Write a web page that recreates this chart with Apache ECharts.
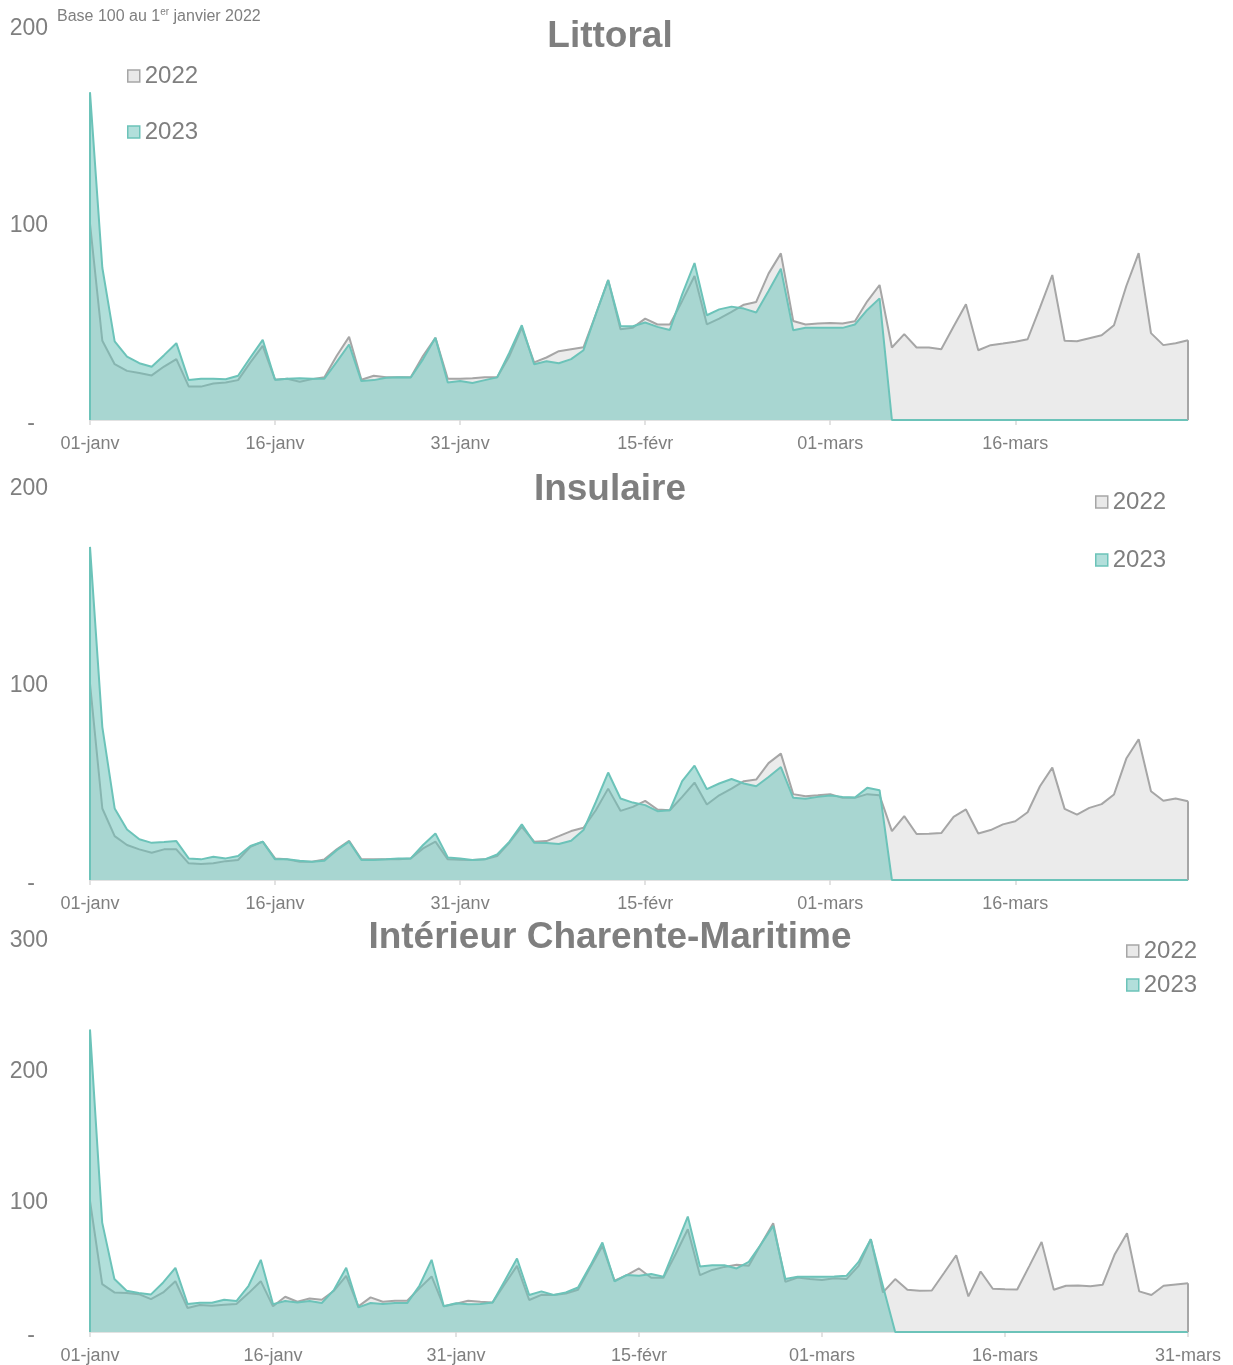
<!DOCTYPE html>
<html><head><meta charset="utf-8">
<script src="https://cdn.jsdelivr.net/npm/echarts@6/dist/echarts.min.js"></script>
<style>html,body{margin:0;padding:0;background:#fff}#c{width:1233px;height:1365px}</style>
</head><body><div id="c"></div>
<script>
// ---------- categories (labels as on the reference calendar) ----------
const monthNames = ['janv', 'févr', 'mars'];
const monthDays = [31, 29, 31];
const allDates = [];
monthNames.forEach(function (m, k) {
  for (let d = 1; d <= monthDays[k]; d++) allDates.push((d < 10 ? '0' : '') + d + '-' + m);
});
const catsLittoral = allDates.slice(0, 90);
const catsInsulaire = allDates.slice(0, 90);
const catsInterieur = allDates.slice(0, 91);

// ---------- values (base 100 au 1er janvier 2022) ----------
const littoral2022 = [100, 40.3, 28.4, 25, 23.9, 22.7, 27.2, 31, 17.1, 17, 18.6, 19.1, 20.3, 29.3, 37.7, 20.5, 21, 19.5, 20.8, 21.7, 32.7, 42.3, 20.5, 22.5, 21.7, 21.8, 21.7, 32.7, 41.8, 21, 21,
  21.3, 21.8, 21.8, 32.6, 47, 29.3, 31.8, 35, 36, 37, 53.8, 71.2, 46.2, 47, 51.6, 48.6, 48.6, 60.6, 73.3, 48.7, 51.6, 55, 58.7, 60.1, 74.5, 84.8, 50.4, 48.6, 49.1, 49.4,
  49.1, 50.3, 60.4, 68.7, 36.9, 43.7, 36.9, 36.9, 36, 47.6, 58.9, 35.5, 38.1, 38.9, 39.8, 41.1, 57.2, 73.8, 40.3, 40.1, 41.6, 43.1, 48.2, 68.2, 84.9, 44.2, 38.1, 39.1, 40.6];
const littoral2023 = [166.7, 77.5, 40, 32.3, 28.9, 27.1, 33, 39.1, 20.3, 21, 21, 20.7, 22.5, 31.8, 40.8, 20.5, 21, 21.3, 21, 21, 29.6, 38.4, 19.8, 20.3, 21.5, 21.8, 21.6, 31, 41.8, 19.1, 19.8,
  18.8, 20.3, 21.7, 34.4, 48.2, 28.4, 29.9, 28.9, 31, 35.5, 53.8, 71.2, 47.9, 47.7, 49.6, 47.4, 45.8, 63.9, 79.9, 53.3, 56.3, 57.7, 56.7, 54.7, 65.6, 77, 45.7, 46.9, 46.9, 46.9,
  46.9, 48.6, 56, 61.9, 0, 0, 0, 0, 0, 0, 0, 0, 0, 0, 0, 0, 0, 0, 0, 0, 0, 0, 0, 0, 0, 0, 0, 0, 0];

const insulaire2022 = [100, 36.4, 22.3, 17.8, 15.6, 13.9, 15.6, 15.6, 8.5, 8.1, 8.5, 9.6, 10.2, 16.9, 19.5, 11, 10.5, 9.3, 9.3, 10.5, 15.6, 20, 10.5, 10.5, 10.5, 10.5, 11, 16.1, 19.5, 10.5, 10.3,
  10.2, 10.5, 12.2, 19.1, 27.1, 19.5, 19.8, 22.3, 24.9, 26.6, 35.5, 46.5, 35.2, 37.2, 40.3, 35.9, 35.5, 42.3, 49.6, 38.4, 43.1, 46.5, 50.3, 51.1, 59.5, 64.3, 43.7, 42.6, 43.1, 43.7,
  41.8, 41.8, 43.7, 43.1, 24.9, 32.5, 23.4, 23.5, 23.9, 32.1, 35.9, 23.7, 25.4, 28.3, 29.9, 34.5, 47.7, 57.2, 36.2, 33.3, 36.7, 38.6, 43.5, 61.8, 71.6, 45.2, 40.3, 41.5, 40.1];
const insulaire2023 = [169.5, 77.8, 36.4, 25.7, 20.7, 18.9, 19.3, 19.8, 11, 10.5, 11.8, 11, 12.2, 17.3, 19.5, 10.5, 10.5, 9.8, 9.3, 9.8, 15.2, 19.5, 10.2, 10.2, 10.5, 11, 11, 17.8, 23.7, 11.5, 10.9,
  10.2, 10.5, 13, 19.5, 28.3, 19, 18.8, 18.3, 20, 25.4, 39.7, 54.7, 41.5, 39.4, 38.1, 35, 35.5, 50.3, 58.2, 46.2, 49.1, 51.4, 49.1, 47.7, 52.4, 57.5, 41.8, 41.3, 42.3, 43,
  42.3, 42, 46.9, 45.7, 0, 0, 0, 0, 0, 0, 0, 0, 0, 0, 0, 0, 0, 0, 0, 0, 0, 0, 0, 0, 0, 0, 0, 0, 0];

const interieur2022 = [100, 36.6, 30.2, 29.7, 28.9, 25.1, 30.2, 38.8, 18.3, 20.6, 20, 20.8, 21.3, 29.7, 38.8, 19.6, 26.9, 23.1, 25.6, 24.6, 31.5, 42.9, 19.6, 26.4, 23.1, 23.8, 23.8, 33.3, 42.4, 19.6, 21.5,
  23.9, 23.1, 22.6, 36.6, 50.5, 24.4, 28.4, 28.2, 29.4, 32.2, 49.3, 65.7, 39.1, 43.4, 48.5, 41.4, 41.4, 59.4, 78.4, 43.4, 47.4, 49.7, 51.3, 50.5, 67, 83, 38.3, 41.6, 40.4, 39.7,
  41.1, 40.4, 50.5, 70.8, 30.2, 40.4, 32.2, 31.5, 31.7, 45, 58.6, 27.2, 46.2, 33, 32.7, 32.5, 50.5, 68.8, 32.2, 35.3, 35.5, 35, 36, 59.4, 75.4, 31, 28.2, 35.3, 36.3, 37.3];
const interieur2023 = [230.8, 83.5, 40.4, 31.5, 29.7, 28.7, 37.8, 49, 21.3, 22.3, 22.3, 24.6, 23.6, 35.3, 55.1, 21.3, 23.6, 22.6, 23.6, 22.1, 32.2, 49, 18.8, 22.1, 21.3, 22.1, 22.1, 35.3, 55.1, 19.6, 22,
  21.1, 21.3, 22.6, 39.1, 56.1, 28.2, 31, 28.2, 30.2, 34, 50.5, 68.3, 38.6, 43.6, 42.9, 44.2, 42.1, 65, 88.1, 50, 51, 51, 48.5, 53.5, 67, 81, 40.4, 42.1, 42.1, 42.1,
  42.4, 42.9, 53.5, 70.8, 35, 0, 0, 0, 0, 0, 0, 0, 0, 0, 0, 0, 0, 0, 0, 0, 0, 0, 0, 0, 0, 0, 0, 0, 0, 0];

const panelTitles = ['Littoral', 'Insulaire', 'Intérieur Charente-Maritime'];
const yMaxes = [200, 200, 300];
const yInterval = 100;

// ---------- styling ----------
const FONT = '"Liberation Sans", Arial, sans-serif';
const TXT = '#7f7f7f';
const GREY_LINE = '#a6a6a6';
const GREY_FILL = '#ebebeb';
const TEAL_LINE = '#6cc3b9';
const TEAL_FILL = '#6bc2ba';

const panels = [
  { cats: catsLittoral, a: littoral2022, b: littoral2023, top: 27, legend: { left: 127, top: 64, gap: 32 }, titleY: 37 },
  { cats: catsInsulaire, a: insulaire2022, b: insulaire2023, top: 487, legend: { left: 1095, top: 490, gap: 34 }, titleY: 490 },
  { cats: catsInterieur, a: interieur2022, b: interieur2023, top: 939, legend: { left: 1126, top: 939, gap: 10 }, titleY: 938 }
];

const grid = [], xAxis = [], yAxis = [], series = [], legend = [], graphic = [];
panels.forEach(function (p, k) {
  grid.push({ left: 90, right: 45, top: p.top, height: 393, containLabel: false });
  xAxis.push({
    type: 'category', gridIndex: k, data: p.cats, boundaryGap: false,
    axisLine: { lineStyle: { color: '#d9d9d9', width: 1.5 } },
    axisTick: { show: true, interval: 14, length: 5, lineStyle: { color: '#d9d9d9', width: 1.5 } },
    axisLabel: { interval: 14, fontSize: 18, color: TXT, margin: 15, fontFamily: FONT }
  });
  yAxis.push({
    type: 'value', gridIndex: k, min: 0, max: yMaxes[k], interval: yInterval,
    splitLine: { show: false }, axisLine: { show: false }, axisTick: { show: false },
    axisLabel: {
      fontSize: 23, color: TXT, margin: 42, fontFamily: FONT, padding: [4, 0, 0, 0],
      formatter: function (v) { return v === 0 ? '{d|-}' : String(v); },
      rich: { d: { fontSize: 23, color: TXT, fontFamily: FONT, padding: [4, 13, 0, 0] } }
    }
  });
  const n = p.cats.length;
  series.push({
    name: '2022', type: 'line', xAxisIndex: k, yAxisIndex: k, data: p.a,
    symbol: 'none', silent: true, z: 2,
    lineStyle: { color: GREY_LINE, width: 2 },
    itemStyle: { color: GREY_LINE },
    areaStyle: { color: GREY_FILL, opacity: 1 },
    markLine: {
      silent: true, symbol: 'none', label: { show: false },
      lineStyle: { color: GREY_LINE, width: 2, type: 'solid' },
      data: [[{ coord: [p.cats[n - 1], 0] }, { coord: [p.cats[n - 1], p.a[n - 1]] }]]
    }
  });
  series.push({
    name: '2023', type: 'line', xAxisIndex: k, yAxisIndex: k, data: p.b,
    symbol: 'none', silent: true, z: 3,
    lineStyle: { color: TEAL_LINE, width: 2 },
    itemStyle: { color: TEAL_LINE },
    areaStyle: { color: TEAL_FILL, opacity: 0.53 },
    markLine: {
      silent: true, symbol: 'none', label: { show: false },
      lineStyle: { color: TEAL_LINE, width: 2, type: 'solid' },
      data: [[{ coord: [p.cats[0], 0] }, { coord: [p.cats[0], p.b[0]] }]]
    }
  });
  legend.push({
    left: p.legend.left, top: p.legend.top, orient: 'vertical', itemGap: p.legend.gap, padding: 0,
    icon: 'rect', itemWidth: 12, itemHeight: 12, itemTextGap: 5, selectedMode: false,
    textStyle: { fontSize: 24, color: TXT, fontFamily: FONT },
    data: [
      { name: '2022', itemStyle: { color: '#e9e9e9', borderColor: GREY_LINE, borderWidth: 1.5 } },
      { name: '2023', itemStyle: { color: '#b2dfdb', borderColor: TEAL_LINE, borderWidth: 1.5 } }
    ]
  });
  graphic.push({
    type: 'text', x: 610, y: p.titleY, silent: true,
    style: {
      text: panelTitles[k], fill: TXT, fontSize: 37, fontWeight: 'bold', fontFamily: FONT,
      align: 'center', verticalAlign: 'middle', textAlign: 'center', textVerticalAlign: 'middle'
    }
  });
});

graphic.push({
  type: 'text', x: 57, y: 7, silent: true,
  style: {
    text: '{a|Base 100 au 1}{b|er}{a| janvier 2022}',
    rich: {
      a: { fontSize: 16, fill: TXT, color: TXT, fontFamily: FONT, lineHeight: 19 },
      b: { fontSize: 10, fill: TXT, color: TXT, fontFamily: FONT, verticalAlign: 'top', lineHeight: 19 }
    }
  }
});

const chart = echarts.init(document.getElementById('c'), null, { renderer: 'canvas' });
chart.setOption({
  animation: false,
  backgroundColor: '#ffffff',
  textStyle: { fontFamily: FONT },
  grid: grid, xAxis: xAxis, yAxis: yAxis, series: series, legend: legend, graphic: graphic
});
</script>
</body></html>
